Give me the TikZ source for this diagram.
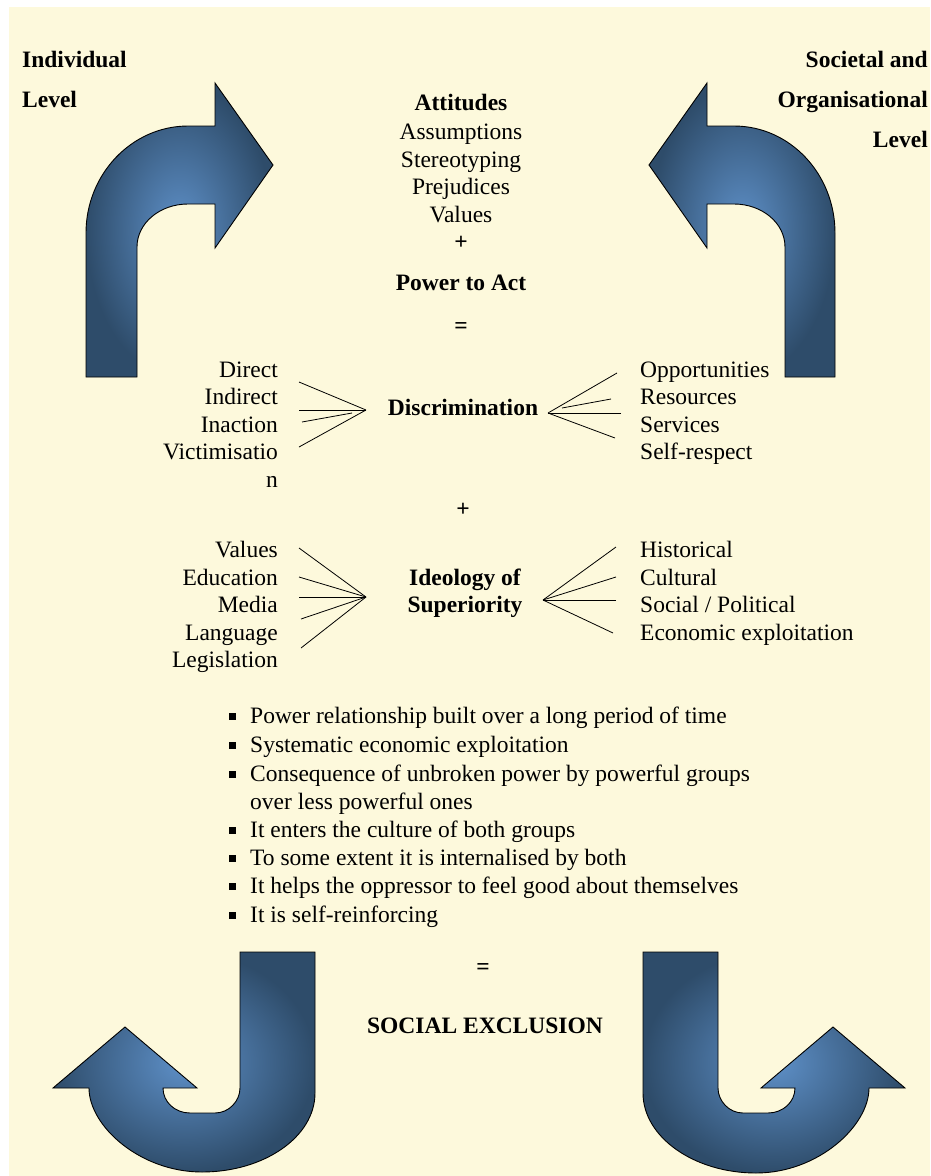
\documentclass[tikz,border=0pt]{standalone}
\usepackage{fontspec}
\setmainfont{Liberation Serif}
\definecolor{paper}{RGB}{253,249,220}
\definecolor{arrowdark}{RGB}{46,76,106}
\definecolor{arrowlight}{RGB}{94,144,200}
\tikzset{
  txt/.style={font=\fontsize{23.5}{27.5}\selectfont, inner sep=0pt},
  hd/.style={font=\fontsize{23.5}{27.5}\selectfont\bfseries, inner sep=0pt},
  turn/.style={draw=black, line width=0.9pt, inner color=arrowlight, outer color=arrowdark},
  fan/.style={line width=0.8pt}
}

\begin{document}
\begin{tikzpicture}[x=1pt,y=-1pt]
  \useasboundingbox (0,0) rectangle (930,1176);
  \fill[paper] (9,7) rectangle (930,1176);

  % turning arrows
  \draw[turn] (86,377) -- (86,233) .. controls (86,174) and (132,126) .. (188,126)
    -- (215,126) -- (215,83) -- (273,165) -- (215,248) -- (215,204) -- (188,204)
    .. controls (160,204) and (137,223) .. (137,247) -- (137,377) -- cycle;
  \draw[turn] (835,377) -- (835,233) .. controls (835,174) and (790,126) .. (734,126)
    -- (707,126) -- (707,83) -- (649,165) -- (707,248) -- (707,204) -- (734,204)
    .. controls (762,204) and (785,223) .. (785,247) -- (785,377) -- cycle;
  \draw[turn] (240,952) -- (315,952) -- (315,1093)
    .. controls (315,1137) and (264,1172) .. (202,1172)
    .. controls (140,1172) and (89,1126) .. (89,1088)
    -- (53,1088) -- (125,1027) -- (197,1088) -- (163,1088)
    .. controls (163,1102) and (175,1113) .. (190,1113) -- (215,1113)
    .. controls (229,1113) and (240,1101) .. (240,1088) -- cycle;
  \draw[turn] (718,952) -- (643,952) -- (643,1093)
    .. controls (643,1137) and (694,1173) .. (756,1173)
    .. controls (818,1173) and (869,1126) .. (869,1088)
    -- (905,1088) -- (833,1027) -- (761,1088) -- (795,1088)
    .. controls (795,1102) and (783,1113) .. (768,1113) -- (743,1113)
    .. controls (729,1113) and (718,1101) .. (718,1088) -- cycle;

  \node[hd, anchor=base west] (ind1) at (22,67) {Individual};
  \node[hd, anchor=base west] (ind2) at (22,107) {Level};
  \node[hd, anchor=base east] (soc1) at (928,67) {Societal and};
  \node[hd, anchor=base east] (soc2) at (928,107) {Organisational};
  \node[hd, anchor=base east] (soc3) at (928,147) {Level};

  \node[hd, anchor=base] (att) at (461,110) {Attitudes};
  \foreach \y/\t [count=\i] in {139/Assumptions, 167/Stereotyping, 194/Prejudices, 222/Values}
    \node[txt, anchor=base] (att\i) at (461,\y) {\t};
  \node[hd, anchor=base] (plus1) at (461,249) {+};
  \node[hd, anchor=base] (power) at (461,290) {Power to Act};
  \node[hd, anchor=base] (eq1) at (461,333) {=};

  \node[hd, anchor=base] (disc) at (463,415) {Discrimination};
  \foreach \y/\t [count=\i] in {377/Direct, 404/Indirect, 432/Inaction, 459/Victimisatio, 487/n}
    \node[txt, anchor=base east] (dl\i) at (278,\y) {\t};
  \foreach \y/\t [count=\i] in {377/Opportunities, 404/Resources, 432/Services, 459/Self-respect}
    \node[txt, anchor=base west] (dr\i) at (640,\y) {\t};

  \coordinate (dhubL) at (366,410);
  \coordinate (dhubR) at (548,413);
  \foreach \a/\b [count=\i] in {299/382, 299/410, 299/447} {
    \coordinate (dfl\i) at (\a,\b);
    \draw[fan] (dfl\i) -- (dhubL);
  }
  \coordinate (dflA) at (302,422);
  \coordinate (dflB) at (352,413);
  \draw[fan] (dflA) -- (dflB);
  \foreach \a/\b [count=\i] in {617/373, 621/413, 615/438} {
    \coordinate (dfr\i) at (\a,\b);
    \draw[fan] (dfr\i) -- (dhubR);
  }
  \coordinate (dfrA) at (611,399);
  \coordinate (dfrB) at (562,408);
  \draw[fan] (dfrA) -- (dfrB);

  \node[hd, anchor=base] (plus2) at (463,516) {+};

  \node[hd, anchor=base] (ideo1) at (465,585) {Ideology of};
  \node[hd, anchor=base] (ideo2) at (465,612) {Superiority};
  \foreach \y/\t [count=\i] in {557/Values, 585/Education, 612/Media, 640/Language, 667/Legislation}
    \node[txt, anchor=base east] (il\i) at (278,\y) {\t};
  \foreach \y/\t [count=\i] in {557/Historical, 585/Cultural, 612/{Social / Political}, 640/Economic exploitation}
    \node[txt, anchor=base west] (ir\i) at (640,\y) {\t};

  \coordinate (ihubL) at (366,597);
  \coordinate (ihubR) at (543,600);
  \foreach \a/\b [count=\i] in {299/548, 299/577, 299/597, 301/619, 301/648} {
    \coordinate (ifl\i) at (\a,\b);
    \draw[fan] (ifl\i) -- (ihubL);
  }
  \foreach \a/\b [count=\i] in {616/547, 616/577, 616/600, 613/633} {
    \coordinate (ifr\i) at (\a,\b);
    \draw[fan] (ifr\i) -- (ihubR);
  }

  \foreach \y/\t [count=\i] in {723/Power relationship built over a long period of time,
      752/Systematic economic exploitation,
      781/Consequence of unbroken power by powerful groups,
      837/It enters the culture of both groups,
      865/To some extent it is internalised by both,
      893/It helps the oppressor to feel good about themselves,
      922/It is self-reinforcing} {
    \node[txt, anchor=base west] (pt\i) at (250,\y) {\t};
    \fill (229,\y-10) rectangle (236,\y-3);
  }
  \node[txt, anchor=base west] (pt3b) at (250,809) {over less powerful ones};

  \node[hd, anchor=base] (eq2) at (483,974) {=};
  \node[hd, anchor=base] (excl) at (485,1033) {SOCIAL EXCLUSION};
\end{tikzpicture}
\end{document}
